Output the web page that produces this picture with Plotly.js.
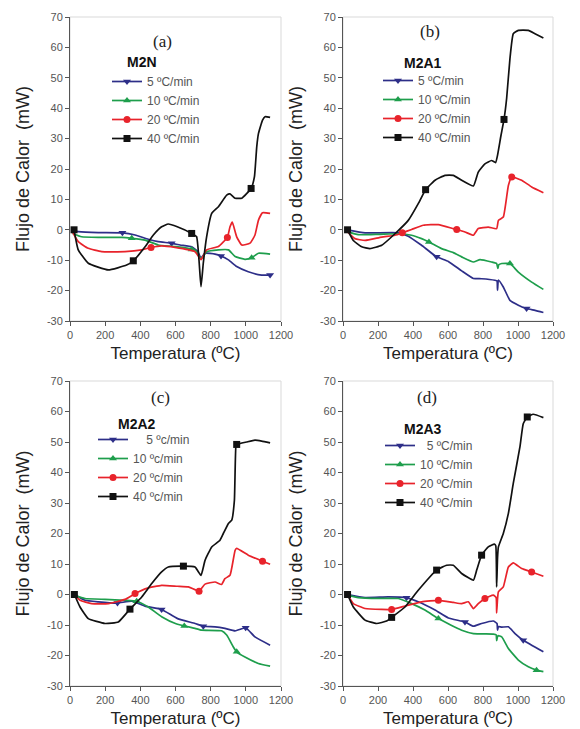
<!DOCTYPE html>
<html><head><meta charset="utf-8">
<script src="https://cdn.plot.ly/plotly-3.0.1.min.js"></script>
<style>html,body{margin:0;padding:0;background:#fff}</style>
</head><body><div id="chart" style="width:580px;height:729px"></div>
<script>
// ---------- tick labels ----------
const xTickVals = [0, 200, 400, 600, 800, 1000, 1200];
const yTickVals = [-30, -20, -10, 0, 10, 20, 30, 40, 50, 60, 70];
const yTickText = ['-30', '-20', '-10', '0', '10', '20', '30', '40', '50', '60', '70'];
const xTitle = 'Temperatura (ºC)';
const yTitle = 'Flujo de Calor\u00a0 (mW)';
const panelTags = ['(a)', '(b)', '(c)', '(d)'];
const sampleNames = ['M2N', 'M2A1', 'M2A2', 'M2A3'];
const rateLabelsA = ['5 ºC/min', '10 ºC/min', '20 ºC/min', '40 ºC/min'];
const rateLabelsB = ['5 ºC/min', '10 ºC/min', '20 ºC/min', '40 ºC/min'];
const rateLabelsC = ['\u00a0\u00a0\u00a0\u00a05 ºc/min', '10 ºc/min', '20 ºc/min', '40 ºc/min'];
const rateLabelsD = ['\u00a0\u00a05 ºC/min', '10 ºC/min', '20 ºC/min', '40 ºC/min'];

// ---------- (a) M2N ----------
const a5T = [15, 47, 161, 298, 370, 445, 502, 575, 626, 692, 725, 745, 768, 825, 859, 901, 948, 1014, 1090, 1138];
const a5Q = [-0.3, -0.6, -0.9, -1.0, -1.7, -3.1, -3.9, -4.4, -5.0, -5.6, -7.0, -9.3, -7.7, -8.0, -8.6, -9.9, -12.1, -13.8, -14.9, -14.9];
const a5MT = [298, 578, 859, 1138];
const a5MQ = [-1.0, -4.4, -8.6, -14.9];
const a10T = [15, 66, 161, 294, 351, 427, 502, 597, 711, 745, 777, 844, 901, 939, 995, 1033, 1072, 1138];
const a10Q = [-1.2, -2.3, -2.5, -2.5, -2.8, -3.4, -5.0, -5.5, -6.6, -9.5, -7.2, -6.6, -6.6, -8.8, -9.7, -9.2, -7.7, -8.0];
const a10MT = [351, 692, 1033];
const a10MQ = [-2.8, -6.5, -9.2];
const a20T = [13, 47, 104, 180, 313, 408, 461, 521, 597, 711, 745, 777, 844, 895, 910, 923, 948, 977, 1024, 1052, 1072, 1095, 1138];
const a20Q = [-0.6, -3.9, -6.1, -7.2, -7.2, -6.6, -5.8, -5.3, -5.8, -7.2, -9.8, -6.6, -5.5, -2.5, 1.0, 2.5, -2.3, -5.0, -4.4, -1.7, 3.2, 5.6, 5.4];
const a20MT = [461, 895];
const a20MQ = [-5.8, -2.5];
const a40T = [23, 47, 104, 218, 322, 360, 427, 474, 521, 559, 610, 692, 720, 745, 758, 777, 806, 844, 891, 910, 939, 977, 1030, 1049, 1062, 1072, 1095, 1109, 1138];
const a40Q = [0, -6.6, -11.0, -13.2, -11.6, -10.2, -5.6, -1.7, 1.0, 1.9, 1.0, -1.2, -2.3, -18.7, -11.0, -2.3, 5.4, 7.6, 11.4, 11.8, 10.4, 10.4, 13.6, 17.5, 27.3, 31.7, 36.1, 37.2, 37.0];
const a40MT = [23, 360, 692, 1030];
const a40MQ = [0, -10.2, -1.2, 13.6];

// ---------- (b) M2A1 ----------
const b5T = [26, 126, 316, 373, 449, 535, 602, 678, 745, 792, 868, 880, 883, 888, 916, 954, 1002, 1049, 1097, 1145];
const b5Q = [0, -1.0, -1.0, -2.1, -5.1, -8.9, -10.4, -13.5, -16.0, -16.1, -16.6, -16.8, -19.9, -16.5, -18.8, -23.2, -24.8, -25.9, -26.5, -27.2];
const b5MT = [535, 1049];
const b5MQ = [-8.9, -25.9];
const b10T = [26, 87, 202, 316, 392, 449, 491, 563, 630, 678, 745, 783, 849, 878, 885, 890, 907, 954, 1002, 1078, 1145];
const b10Q = [-0.7, -1.6, -1.5, -1.3, -1.8, -2.9, -4.0, -6.2, -7.5, -8.9, -10.6, -9.8, -10.6, -11.1, -12.7, -11.5, -11.1, -11.1, -13.9, -17.2, -19.6];
const b10MT = [491, 954];
const b10MQ = [-4.0, -11.1];
const b20T = [26, 68, 126, 221, 297, 339, 392, 459, 545, 630, 650, 697, 745, 773, 830, 878, 888, 916, 945, 964, 1021, 1078, 1145];
const b20Q = [-0.7, -2.9, -3.5, -2.4, -1.8, -1.0, 0.1, 1.5, 1.7, 0.4, 0.1, -0.7, -1.8, 0.4, 0.9, 0.4, 3.1, 4.2, 14.6, 17.4, 16.3, 14.1, 12.2];
const b20MT = [339, 650, 964];
const b20MQ = [-1.0, 0.1, 17.4];
const b40T = [26, 59, 107, 154, 221, 297, 373, 430, 472, 526, 583, 630, 678, 745, 773, 811, 849, 872, 883, 903, 920, 935, 954, 973, 1002, 1059, 1097, 1145];
const b40Q = [0, -3.5, -5.6, -6.2, -5.1, -1.3, 3.1, 8.6, 13.2, 16.3, 17.9, 17.9, 16.3, 14.4, 19.0, 21.7, 22.8, 22.1, 24.5, 31.1, 36.3, 43.2, 56.3, 64.5, 65.6, 65.6, 64.5, 63.1];
const b40MT = [26, 472, 920];
const b40MQ = [0, 13.2, 36.3];

// ---------- (c) M2A2 ----------
const c5T = [25, 85, 161, 270, 351, 427, 521, 612, 711, 758, 825, 881, 939, 999, 1052, 1138];
const c5Q = [0, -1.9, -2.4, -2.8, -2.2, -3.8, -4.9, -7.9, -9.5, -10.4, -10.6, -11.1, -11.9, -10.9, -13.9, -16.6];
const c5MT = [270, 521, 758, 999];
const c5MQ = [-2.8, -4.9, -10.4, -10.9];
const c10T = [25, 85, 199, 313, 379, 445, 521, 603, 711, 749, 862, 891, 929, 948, 995, 1071, 1138];
const c10Q = [-0.3, -1.3, -1.6, -1.9, -2.2, -4.1, -7.3, -9.6, -11.1, -11.7, -11.9, -13.3, -17.2, -18.8, -20.5, -22.6, -23.5];
const c10MT = [379, 650, 948];
const c10MQ = [-2.2, -10.3, -18.8];
const c20T = [25, 57, 123, 218, 313, 370, 436, 521, 610, 673, 734, 768, 825, 862, 881, 910, 939, 948, 1014, 1095, 1138];
const c20Q = [0, -1.9, -3.0, -3.0, -1.6, 0.3, 2.0, 3.0, 2.7, 2.5, 1.1, 3.4, 4.1, 3.3, 5.2, 6.3, 14.5, 15.1, 12.9, 10.9, 9.9];
const c20MT = [370, 734, 1095];
const c20MQ = [0.3, 1.1, 10.9];
const c40T = [25, 57, 104, 199, 275, 341, 408, 465, 521, 559, 645, 711, 745, 768, 806, 853, 872, 901, 920, 935, 944, 948, 1005, 1052, 1090, 1138];
const c40Q = [0, -4.1, -7.9, -9.5, -9.0, -4.8, -0.8, 3.6, 7.4, 9.0, 9.3, 9.0, 6.3, 11.2, 15.6, 17.8, 20.0, 23.3, 24.4, 30.9, 49.0, 49.2, 50.0, 50.6, 50.3, 49.7];
const c40MT = [25, 341, 645, 948];
const c40MQ = [0, -4.8, 9.3, 49.2];

// ---------- (d) M2A3 ----------
const d5T = [26, 126, 258, 363, 430, 526, 602, 697, 745, 792, 859, 880, 883, 888, 907, 945, 983, 1030, 1145];
const d5Q = [0, -1.0, -0.8, -1.1, -2.4, -5.1, -7.7, -9.0, -10.4, -9.5, -8.7, -9.5, -11.7, -10.5, -10.7, -10.6, -12.8, -15.0, -18.8];
const d5MT = [363, 697, 1030];
const d5MQ = [-1.1, -9.0, -15.0];
const d10T = [26, 87, 202, 316, 392, 468, 545, 615, 678, 745, 859, 875, 878, 885, 907, 945, 1002, 1059, 1106, 1145];
const d10Q = [-0.3, -1.0, -1.3, -1.3, -3.0, -5.1, -7.9, -10.0, -11.7, -12.8, -13.0, -13.2, -15.1, -13.5, -13.9, -17.7, -21.5, -23.7, -24.8, -25.3];
const d10MT = [545, 1106];
const d10MQ = [-7.9, -24.8];
const d20T = [26, 59, 126, 221, 278, 354, 449, 545, 630, 678, 716, 745, 773, 811, 859, 875, 878, 883, 888, 916, 945, 973, 1021, 1078, 1145];
const d20Q = [0, -3.0, -4.6, -4.9, -4.9, -3.8, -2.4, -1.9, -2.6, -3.0, -2.4, -4.6, -3.0, -1.3, -0.2, -1.0, -6.0, -1.5, 0.9, 2.5, 9.0, 10.4, 8.5, 7.4, 6.0];
const d20MT = [278, 545, 811, 1078];
const d20MQ = [-4.9, -1.9, -1.3, 7.4];
const d40T = [26, 59, 126, 192, 249, 278, 354, 430, 535, 592, 630, 678, 745, 764, 792, 830, 865, 873, 878, 883, 888, 916, 945, 973, 1011, 1030, 1053, 1087, 1145];
const d40Q = [0, -4.1, -8.4, -9.5, -8.7, -7.5, -4.1, 1.4, 8.0, 9.6, 9.6, 6.9, 4.7, 8.0, 12.9, 15.6, 16.5, 16.0, 2.5, 12.0, 15.6, 20.0, 26.6, 36.4, 48.4, 56.0, 58.2, 59.1, 58.0];
const d40MT = [26, 278, 535, 792, 1053];
const d40MQ = [0, -7.5, 8.0, 12.9, 58.2];

// ---------- build ----------
const W = 580, H = 729;
const px = v => v / W, py = v => 1 - v / H;
const colors = ['#2d2e88', '#1e9e4c', '#e8232b', '#111111'];
const symbols = ['triangle-down', 'triangle-up', 'circle', 'square'];

const panels = [
  {suf: '', leg: 'legend', labels: rateLabelsA,
   curves: [[a5T, a5Q, a5MT, a5MQ], [a10T, a10Q, a10MT, a10MQ], [a20T, a20Q, a20MT, a20MQ], [a40T, a40Q, a40MT, a40MQ]],
   xd: [70, 281], yd: [17, 321], legPos: [107, 67], tag: [162, 41], name: [142, 62]},
  {suf: '2', leg: 'legend2', labels: rateLabelsB,
   curves: [[b5T, b5Q, b5MT, b5MQ], [b10T, b10Q, b10MT, b10MQ], [b20T, b20Q, b20MT, b20MQ], [b40T, b40Q, b40MT, b40MQ]],
   xd: [343, 553], yd: [17, 321], legPos: [378, 66], tag: [430, 32], name: [423, 63]},
  {suf: '3', leg: 'legend3', labels: rateLabelsC,
   curves: [[c5T, c5Q, c5MT, c5MQ], [c10T, c10Q, c10MT, c10MQ], [c20T, c20Q, c20MT, c20MQ], [c40T, c40Q, c40MT, c40MQ]],
   xd: [70, 281], yd: [381, 686], legPos: [93, 425], tag: [160, 397], name: [137, 424]},
  {suf: '4', leg: 'legend4', labels: rateLabelsD,
   curves: [[d5T, d5Q, d5MT, d5MQ], [d10T, d10Q, d10MT, d10MQ], [d20T, d20Q, d20MT, d20MQ], [d40T, d40Q, d40MT, d40MQ]],
   xd: [343, 553], yd: [381, 686], legPos: [380, 431], tag: [427, 397], name: [423, 429]}
];

const traces = [];
const layout = {
  width: W, height: H, margin: {l: 0, r: 0, t: 0, b: 0},
  paper_bgcolor: '#fff', plot_bgcolor: '#fff', showlegend: true,
  font: {family: 'Liberation Sans, Arial, sans-serif', color: '#333'},
  annotations: [], shapes: []
};

panels.forEach((p, pi) => {
  const xa = 'x' + p.suf, ya = 'y' + p.suf;
  p.curves.forEach((c, si) => {
    traces.push({
      type: 'scatter', mode: 'lines', x: c[0], y: c[1], xaxis: xa, yaxis: ya,
      line: {color: colors[si], width: 1.7, shape: 'spline', smoothing: 0.4},
      showlegend: false, hoverinfo: 'skip'
    });
    const mx = [], my = [];
    c[2].forEach((t, k) => { mx.push(t, null); my.push(c[3][k], null); });
    traces.push({
      type: 'scatter', mode: 'lines+markers', x: mx, y: my, xaxis: xa, yaxis: ya,
      connectgaps: false, name: p.labels[si], legend: p.leg,
      line: {color: colors[si], width: 1.7},
      marker: {symbol: symbols[si], size: 7, color: colors[si]},
      hoverinfo: 'skip'
    });
  });
  const xKey = 'xaxis' + p.suf, yKey = 'yaxis' + p.suf;
  layout[xKey] = {
    domain: [px(p.xd[0]), px(p.xd[1])], range: [0, 1200], anchor: ya,
    tickmode: 'array', tickvals: xTickVals, ticks: 'outside', ticklen: 4, tickcolor: '#555',
    showline: true, linecolor: '#555', linewidth: 1, showgrid: false, zeroline: false,
    tickfont: {size: 11, color: '#555'},
    title: {text: xTitle, font: {size: 17, color: '#222'}, standoff: 6}
  };
  layout[yKey] = {
    domain: [py(p.yd[1]), py(p.yd[0])], range: [-30, 70], anchor: xa,
    tickmode: 'array', tickvals: yTickVals, ticktext: yTickText, ticks: 'outside', ticklen: 4, tickcolor: '#555',
    showline: true, linecolor: '#555', linewidth: 1, showgrid: false, zeroline: false,
    tickfont: {size: 11, color: '#555'},
    title: {text: yTitle, font: {size: 18, color: '#222'}, standoff: 12}
  };
  layout[p.leg] = {
    x: px(p.legPos[0]), y: py(p.legPos[1]), xanchor: 'left', yanchor: 'top',
    bgcolor: 'rgba(0,0,0,0)', borderwidth: 0, font: {size: 12, color: '#555'},
    tracegroupgap: 0
  };
  layout.shapes.push({
    type: 'rect', xref: xa + ' domain', yref: ya + ' domain', x0: 0, x1: 1, y0: 0, y1: 1,
    line: {color: '#d9d9d9', width: 1}, layer: 'below'
  });
  layout.annotations.push({
    text: panelTags[pi], x: px(p.tag[0]), y: py(p.tag[1]), xref: 'paper', yref: 'paper',
    xanchor: 'center', yanchor: 'middle', showarrow: false,
    font: {family: 'Liberation Serif, Times New Roman, serif', size: 17, color: '#222'}
  });
  layout.annotations.push({
    text: '<b>' + sampleNames[pi] + '</b>', x: px(p.name[0]), y: py(p.name[1]), xref: 'paper', yref: 'paper',
    xanchor: 'center', yanchor: 'middle', showarrow: false,
    font: {family: 'Liberation Sans, Arial, sans-serif', size: 14, color: '#111'}
  });
});

Plotly.newPlot('chart', traces, layout, {staticPlot: true, displayModeBar: false});
</script>
</body></html>
